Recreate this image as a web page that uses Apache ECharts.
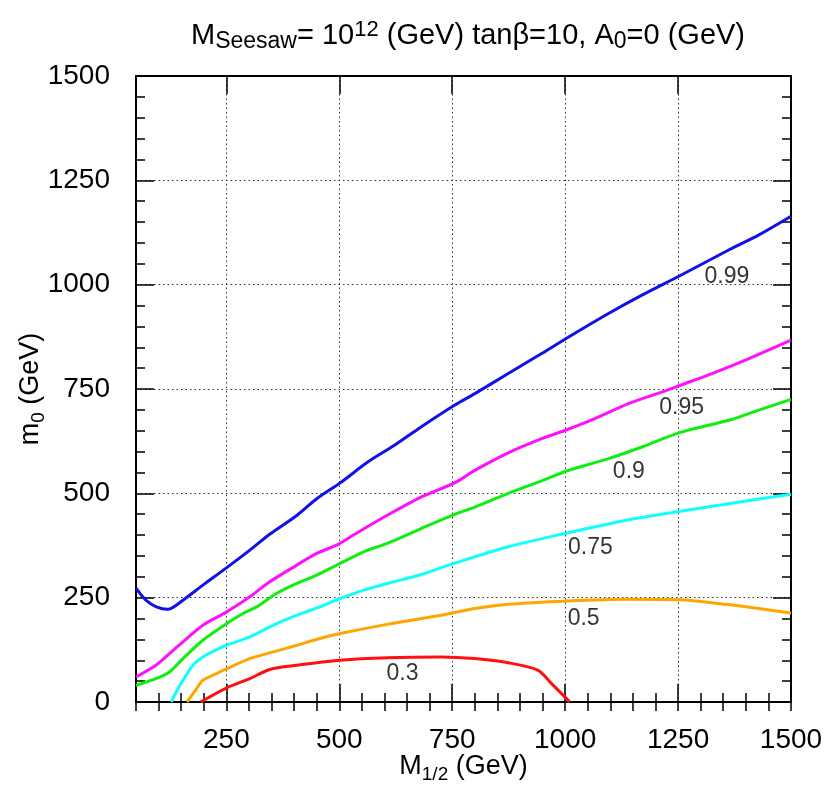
<!DOCTYPE html>
<html>
<head>
<meta charset="utf-8">
<script src="https://cdn.jsdelivr.net/npm/echarts@6/dist/echarts.min.js"></script>
<style>
  html, body { margin: 0; padding: 0; background: #fff; }
  #chart { width: 829px; height: 796px; }
</style>
</head>
<body>
<div id="chart"></div>
<script>
// contour data, M_1/2 (x) vs m_0 (y), in GeV
const x099 = [50, 72, 95, 120, 154, 198, 251, 302, 346, 406, 450, 502, 563, 622, 681, 755, 800, 874, 948, 1005, 1096, 1170, 1255, 1362, 1430, 1500];
const y099 = [273, 244, 228, 222, 244, 280, 322, 364, 402, 447, 487, 525, 575, 615, 659, 711, 739, 787, 835, 873, 931, 975, 1022, 1083, 1120, 1164];

const x095 = [50, 94, 124, 154, 198, 251, 280, 302, 346, 406, 450, 494, 531, 607, 681, 755, 800, 874, 948, 1005, 1066, 1140, 1207, 1255, 1325, 1407, 1500];
const y095 = [60, 88, 116, 144, 184, 216, 236, 252, 288, 328, 356, 376, 400, 448, 491, 525, 555, 597, 631, 653, 679, 715, 740, 759, 787, 823, 867];

const x090 = [50, 94, 124, 154, 198, 251, 287, 317, 361, 406, 450, 502, 554, 606, 680, 754, 800, 874, 948, 1005, 1096, 1170, 1255, 1362, 1430, 1500];
const y090 = [40, 56, 72, 104, 148, 188, 212, 228, 260, 284, 304, 332, 360, 380, 415, 449, 467, 500, 530, 554, 583, 611, 646, 675, 700, 725];

const x075 = [128, 142, 154, 176, 198, 251, 302, 354, 406, 457, 502, 554, 606, 680, 754, 874, 1005, 1133, 1255, 1355, 1500];
const y075 = [0, 30, 52, 88, 108, 136, 156, 184, 208, 228, 248, 268, 284, 305, 332, 372, 405, 435, 457, 474, 498];

const x050 = [163, 183, 198, 228, 251, 302, 354, 406, 457, 502, 606, 726, 800, 874, 1005, 1133, 1255, 1355, 1429, 1500];
const y050 = [0, 30, 52, 68, 80, 104, 120, 136, 152, 164, 186, 208, 224, 234, 242, 246, 245, 234, 224, 213];

const x030 = [193, 251, 302, 346, 406, 502, 606, 726, 800, 874, 940, 970, 1003, 1010];
const y030 = [0, 34, 56, 78, 88, 100, 106, 108, 104, 94, 76, 44, 8, 0];

// contour level labels
const levelNames = ['0.99', '0.95', '0.9', '0.75', '0.5', '0.3'];
const levelX = [1358, 1258, 1141, 1056, 1041, 640];
const levelY = [1020, 705, 552, 371, 200, 69];

const xMajor = [250, 500, 750, 1000, 1250, 1500];

function zip(xs, ys) {
  return xs.map((x, i) => [x, ys[i]]);
}

const font = 'Liberation Sans, Arial, sans-serif';
const gridLine = { show: true, lineStyle: { color: '#333', width: 1, type: [1.5, 3] } };
const plain = (v) => String(v);

function curve(name, xs, ys, color) {
  return {
    name: name,
    type: 'line',
    data: zip(xs, ys),
    smooth: 0.3,
    showSymbol: false,
    lineStyle: { color: color, width: 3 },
    z: 3
  };
}

const chart = echarts.init(document.getElementById('chart'));

const majorX = (pos, labels) => ({
  type: 'value', position: pos, min: 50, max: 1500, gridIndex: 0,
  axisLine: { show: true, onZero: false, lineStyle: { color: '#000', width: 2 } },
  axisTick: { show: true, inside: true, length: 18, customValues: xMajor, lineStyle: { color: '#000', width: 1.5 } },
  axisLabel: labels
    ? { show: true, customValues: xMajor, formatter: plain, margin: 24, fontSize: 28, color: '#000', fontFamily: font }
    : { show: false },
  splitLine: labels ? gridLine : { show: false }
});
const minorX = (pos) => ({
  type: 'value', position: pos, min: 50, max: 1500, interval: 50, gridIndex: 0,
  axisLine: { show: false },
  axisTick: { show: true, inside: true, length: 9, lineStyle: { color: '#000', width: 1.5 } },
  axisLabel: { show: false },
  splitLine: { show: false }
});
const yAx = (pos, labels) => ({
  type: 'value', position: pos, min: 0, max: 1500, interval: 250,
  axisLine: { show: true, onZero: false, lineStyle: { color: '#000', width: 2 } },
  axisTick: { show: true, inside: true, length: 18, lineStyle: { color: '#000', width: 1.5 } },
  minorTick: { show: true, splitNumber: 5, length: 9, lineStyle: { color: '#000', width: 1.5 } },
  axisLabel: labels
    ? { show: true, formatter: plain, margin: 26, fontSize: 28, color: '#000', fontFamily: font }
    : { show: false },
  splitLine: labels ? gridLine : { show: false }
});

const nameRich = {
  a: { fontSize: 27, fontFamily: font, color: '#000', lineHeight: 34 },
  s: { fontSize: 19, fontFamily: font, color: '#000', lineHeight: 16, verticalAlign: 'bottom' }
};

const xName = majorX('bottom', true);
xName.name = '{a|M}{s|1/2}{a| (GeV)}';
xName.nameLocation = 'middle';
xName.nameGap = 48;
xName.nameMoveOverlap = false;
xName.nameTextStyle = { fontFamily: font, color: '#000', rich: nameRich };

const yName = yAx('left', true);
yName.name = '{a|m}{s|0}{a| (GeV)}';
yName.nameLocation = 'middle';
yName.nameRotate = 90;
yName.nameGap = 88;
yName.nameMoveOverlap = false;
yName.nameTextStyle = { fontFamily: font, color: '#000', rich: nameRich };

chart.setOption({
  animation: false,
  backgroundColor: '#fff',
  title: {
    text: '{a|M}{s|Seesaw}{a|= 10}{p|12}{a| (GeV) tanβ=10, A}{s|0}{a|=0 (GeV)}',
    left: 463,
    textAlign: 'center',
    top: 14,
    textStyle: {
      fontWeight: 'normal',
      rich: {
        a: { fontSize: 29, fontFamily: font, color: '#000', lineHeight: 34, fontWeight: 'normal' },
        s: { fontSize: 23, fontFamily: font, color: '#000', lineHeight: 14, verticalAlign: 'bottom', fontWeight: 'normal' },
        p: { fontSize: 22, fontFamily: font, color: '#000', lineHeight: 12, verticalAlign: 'top', fontWeight: 'normal' }
      }
    }
  },
  grid: { left: 136, right: 38, top: 76, bottom: 94, containLabel: false, outerBoundsMode: 'none' },
  xAxis: [xName, minorX('bottom'), majorX('top', false), minorX('top')],
  yAxis: [yName, yAx('right', false)],
  series: [
    curve('0.99', x099, y099, '#1010e8'),
    curve('0.95', x095, y095, '#ff10ff'),
    curve('0.9', x090, y090, '#10ee10'),
    curve('0.75', x075, y075, '#10ffff'),
    curve('0.5', x050, y050, '#ffa500'),
    curve('0.3', x030, y030, '#ff1010'),
    {
      type: 'scatter',
      symbolSize: 0,
      data: levelNames.map((n, i) => ({ name: n, value: [levelX[i], levelY[i]] })),
      label: {
        show: true, position: 'inside', formatter: '{b}',
        fontSize: 23, color: '#000', fontFamily: font
      },
      z: 4
    }
  ]
});
</script>
</body>
</html>
